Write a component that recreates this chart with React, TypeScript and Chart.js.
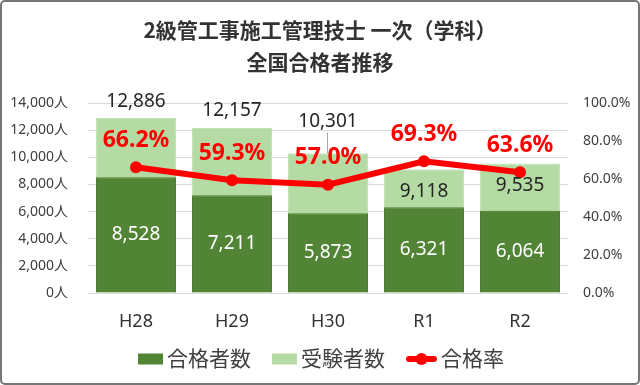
import React, { useEffect, useRef } from 'react';
import { Chart, registerables } from 'chart.js';

Chart.register(...registerables);

const categories = ['H28', 'H29', 'H30', 'R1', 'R2'];
const passers = [8528, 7211, 5873, 6321, 6064];
const examinees = [12886, 12157, 10301, 9118, 9535];
const passRate = [66.2, 59.3, 57.0, 69.3, 63.6];
const seriesNames = ['合格者数', '受験者数', '合格率'];
const titleLines = ['2級管工事施工管理技士 一次（学科）', '全国合格者推移'];
const leftAxisMax = 14000;
const leftAxisStep = 2000;
const rightAxisMax = 100;
const rightAxisStep = 20;

const FONT = "'Noto Sans', 'Noto Sans CJK JP', sans-serif";
const DARK = '#518434';
const LIGHT = '#B4DBA3';
const RED = '#FF0000';
const TEXT = '#404040';

const fmt = (n: number) => n.toLocaleString('en-US');

const overlayPlugin = {
  id: 'overlay',
  beforeDraw(chart: any) {
    const ctx = chart.ctx;
    ctx.save();
    ctx.fillStyle = '#ffffff';
    ctx.fillRect(0, 0, chart.width, chart.height);
    ctx.restore();
  },
  afterDatasetsDraw(chart: any) {
    const ctx = chart.ctx;
    const darkMeta = chart.getDatasetMeta(0);
    const lightMeta = chart.getDatasetMeta(1);
    const lineMeta = chart.getDatasetMeta(2);
    ctx.save();
    ctx.textAlign = 'center';
    ctx.textBaseline = 'middle';
    for (let i = 0; i < categories.length; i++) {
      const dark = darkMeta.data[i];
      const light = lightMeta.data[i];
      const pt = lineMeta.data[i];
      ctx.font = `19px ${FONT}`;
      ctx.fillStyle = '#ffffff';
      ctx.fillText(fmt(passers[i]), dark.x, (dark.y + dark.base) / 2);
      const rateY = pt.y - 27;
      let lightY = light.y - 17;
      let leader = false;
      if (Math.abs(lightY - rateY) < 26) {
        if (rateY < light.y) {
          lightY = light.y + 22;
        } else {
          lightY = rateY - 36;
          leader = true;
        }
      }
      if (leader) {
        ctx.strokeStyle = '#A6A6A6';
        ctx.lineWidth = 1;
        ctx.beginPath();
        ctx.moveTo(Math.round(light.x) - 0.5, lightY + 11);
        ctx.lineTo(Math.round(light.x) - 0.5, light.y);
        ctx.stroke();
      }
      ctx.fillStyle = '#262626';
      ctx.fillText(fmt(examinees[i]), light.x, lightY);
    }
    ctx.font = `bold 23px ${FONT}`;
    ctx.fillStyle = RED;
    for (let i = 0; i < categories.length; i++) {
      const pt = lineMeta.data[i];
      ctx.fillText(`${passRate[i].toFixed(1)}%`, pt.x, pt.y - 27);
    }
    ctx.restore();
  },
  afterDraw(chart: any) {
    const ctx = chart.ctx;
    ctx.save();
    ctx.textAlign = 'center';
    ctx.textBaseline = 'middle';
    ctx.fillStyle = '#333333';
    ctx.font = `bold 21px 'Noto Sans CJK JP', ${FONT}`;
    ctx.fillText(titleLines[0], 320, 30);
    ctx.fillText(titleLines[1], 320, 62);

    ctx.font = `21px ${FONT}`;
    const ds = chart.data.datasets;
    const items = ds.map((d: any) => ({
      label: d.label,
      kind: d.type === 'line' ? 'line' : 'box',
      color: d.type === 'line' ? d.borderColor : d.backgroundColor,
      markerW: d.type === 'line' ? 31 : 25,
      textW: ctx.measureText(d.label).width,
    }));
    const gap = 4;
    const itemGap = 21;
    let total = 0;
    items.forEach((it: any, i: number) => {
      total += it.markerW + gap + it.textW + (i > 0 ? itemGap : 0);
    });
    let x = 321 - total / 2;
    const ly = 359;
    ctx.textAlign = 'left';
    items.forEach((it: any) => {
      if (it.kind === 'box') {
        ctx.fillStyle = it.color;
        ctx.fillRect(x, ly - 5.5, it.markerW, 11);
      } else {
        ctx.strokeStyle = it.color;
        ctx.lineWidth = 6;
        ctx.lineCap = 'round';
        ctx.beginPath();
        ctx.moveTo(x + 3, ly);
        ctx.lineTo(x + it.markerW - 3, ly);
        ctx.stroke();
        ctx.fillStyle = it.color;
        ctx.beginPath();
        ctx.arc(x + it.markerW / 2, ly, 6, 0, Math.PI * 2);
        ctx.fill();
      }
      x += it.markerW + gap;
      ctx.fillStyle = TEXT;
      ctx.fillText(it.label, x, ly + 1);
      x += it.textW + itemGap;
    });

    ctx.strokeStyle = '#767676';
    ctx.lineWidth = 2;
    ctx.beginPath();
    const r = 4;
    const bx = 1, by = 1, bw = chart.width - 2, bh = chart.height - 2;
    ctx.moveTo(bx + r, by);
    ctx.lineTo(bx + bw - r, by);
    ctx.arcTo(bx + bw, by, bx + bw, by + r, r);
    ctx.lineTo(bx + bw, by + bh - r);
    ctx.arcTo(bx + bw, by + bh, bx + bw - r, by + bh, r);
    ctx.lineTo(bx + r, by + bh);
    ctx.arcTo(bx, by + bh, bx, by + bh - r, r);
    ctx.lineTo(bx, by + r);
    ctx.arcTo(bx, by, bx + r, by, r);
    ctx.closePath();
    ctx.stroke();
    ctx.restore();
  },
};

export default function App() {
  const ref = useRef<HTMLCanvasElement>(null);
  useEffect(() => {
    if (!ref.current) return;
    const chart = new Chart(ref.current, {
      type: 'bar',
      data: {
        labels: categories,
        datasets: [
          {
            type: 'bar',
            label: seriesNames[0],
            data: passers,
            backgroundColor: DARK,
            borderColor: '#4C7A2E',
            borderWidth: 1,
            grouped: false,
            barPercentage: 80 / 96,
            categoryPercentage: 1,
            yAxisID: 'y',
            order: 1,
          },
          {
            type: 'bar',
            label: seriesNames[1],
            data: examinees,
            backgroundColor: LIGHT,
            borderColor: '#C3E2B5',
            borderWidth: 1,
            grouped: false,
            barPercentage: 80 / 96,
            categoryPercentage: 1,
            yAxisID: 'y',
            order: 2,
          },
          {
            type: 'line',
            label: seriesNames[2],
            data: passRate,
            borderColor: RED,
            backgroundColor: RED,
            borderWidth: 6,
            pointRadius: 6,
            pointBackgroundColor: RED,
            pointBorderWidth: 0,
            tension: 0,
            yAxisID: 'y1',
            order: 0,
          },
        ] as any,
      },
      options: {
        responsive: false,
        animation: false,
        layout: { padding: { top: 103, bottom: 0, left: 0, right: 0 } },
        plugins: {
          legend: { display: false },
          title: { display: false },
          tooltip: { enabled: false },
        },
        scales: {
          x: {
            grid: { display: false, drawTicks: false },
            border: { display: false },
            ticks: { font: { size: 18, family: FONT }, color: '#333333', padding: 18 },
            afterFit: (s: any) => {
              s.height = 92;
            },
          },
          y: {
            position: 'left',
            min: 0,
            max: leftAxisMax,
            ticks: {
              stepSize: leftAxisStep,
              callback: (v: any) => `${fmt(Number(v))}人`,
              font: { size: 14, family: FONT },
              color: TEXT,
              padding: 20,
            },
            grid: { color: '#D9D9D9', drawTicks: false, lineWidth: 1 },
            border: { display: false },
            afterFit: (s: any) => {
              s.width = 88;
            },
          },
          y1: {
            position: 'right',
            min: 0,
            max: rightAxisMax,
            ticks: {
              stepSize: rightAxisStep,
              callback: (v: any) => `${Number(v).toFixed(1)}%`,
              font: { size: 14, family: FONT },
              color: TEXT,
              padding: 15,
            },
            grid: { display: false, drawTicks: false },
            border: { display: false },
            afterFit: (s: any) => {
              s.width = 72;
            },
          },
        },
      } as any,
      plugins: [overlayPlugin],
    });
    return () => chart.destroy();
  }, []);
  return (
    <div style={{ position: 'fixed', left: 0, top: 0, width: 640, height: 385 }}>
      <canvas ref={ref} width={640} height={385} style={{ display: 'block' }} />
    </div>
  );
}
